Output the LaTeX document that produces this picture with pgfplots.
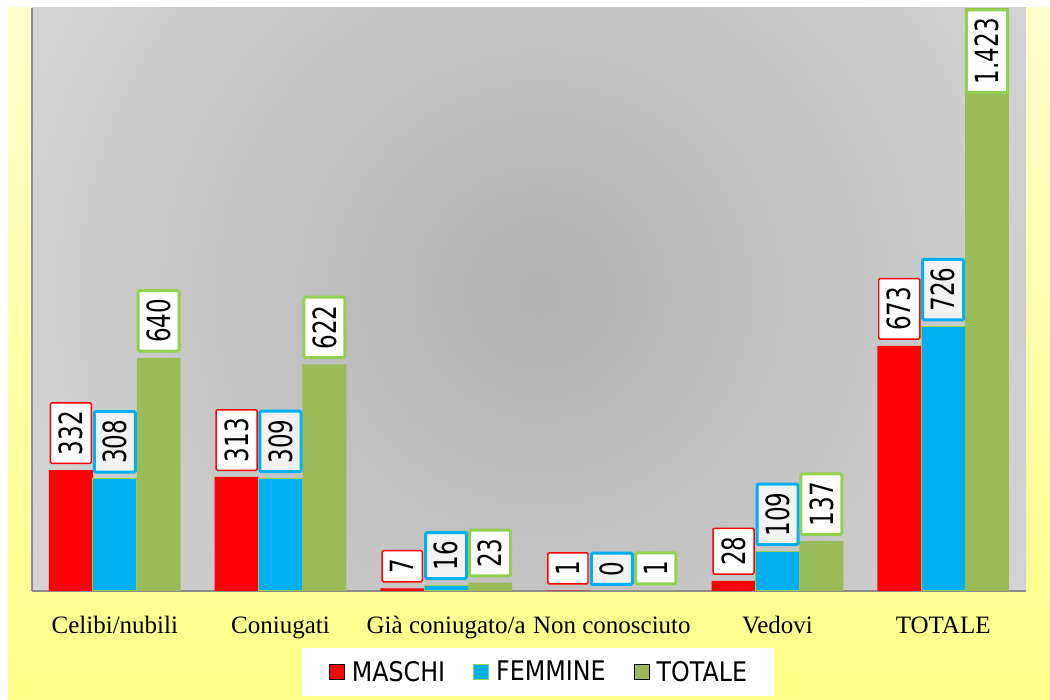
\documentclass[border=0pt]{standalone}
\usepackage{fontspec}
\usepackage{pgfplots}
\pgfplotsset{compat=1.18}
\newfontfamily\labelfont[FakeStretch=0.72]{DejaVu Sans}
\newfontfamily\legfont[FakeStretch=0.88]{DejaVu Sans}
\newfontfamily\catfont{Liberation Serif}
\definecolor{cred}{HTML}{FF0000}
\definecolor{ccyan}{HTML}{00B0F0}
\definecolor{cgreen}{HTML}{9BBB59}
\definecolor{cgreenl}{HTML}{92D050}
\definecolor{lblgray}{HTML}{F2F2F2}
\definecolor{axgray}{HTML}{8C8C8C}
\definecolor{yeltop}{HTML}{FFFFCC}
\definecolor{yelbot}{HTML}{FFFF88}
\definecolor{bgin}{HTML}{B2B2B2}
\definecolor{bgout}{HTML}{EAEAEA}
\pgfdeclareradialshading{plotbg}{\pgfpoint{0bp}{0bp}}{color(0bp)=(bgin); color(40bp)=(bgout); color(50bp)=(bgout)}
\begin{document}
\begin{tikzpicture}
\useasboundingbox (0,0) rectangle (787.5pt,525pt);
\fill[white] (0,0) rectangle (787.5pt,525pt);
\shade[top color=yeltop, bottom color=yelbot] (6pt,0pt) rectangle (787.5pt,519pt);
\begin{scope}
  \clip (24pt,81.75pt) rectangle (769.5pt,519pt);
  \shade[shading=plotbg] (405pt,305.25pt) circle (442.5pt);
\end{scope}
\begin{axis}[
  at={(24pt,81.75pt)}, anchor=south west,
  width=745.5pt, height=437.25pt, scale only axis,
  xmin=-0.5, xmax=5.5, ymin=0, ymax=1600,
  ybar, bar width=0.265,
  xtick={0,1,2,3,4,5},
  xticklabels={Celibi/nubili, Coniugati, Già coniugato/a, Non conosciuto, Vedovi, TOTALE},
  ytick=\empty,
  major tick length=0pt,
  xtick style={draw=none},
  axis lines*=left,
  axis line style={draw=axgray, line width=1.5pt},
  xticklabel style={font=\catfont\fontsize{18.75pt}{20pt}\selectfont, anchor=base, yshift=-31.5pt},
  /pgf/number format/assume math mode=true,
  every node near coord/.append style={rotate=90, anchor=west, text=black,
     font=\labelfont\fontsize{24pt}{26pt}\selectfont,
     inner xsep=6.2pt, inner ysep=6.3pt, outer xsep=5pt, outer ysep=0pt, rounded corners=1pt},
  legend columns=3,
  legend image code/.code={\draw[#1, line width=0.75pt] (0pt,-5.4pt) rectangle (11.25pt,5.85pt);},
  legend style={at={(0.509,-0.139)}, anchor=center, draw=none, fill=white,
     inner xsep=20pt, inner ysep=9.8pt,
     font=\legfont\fontsize{20.25pt}{22pt}\selectfont,
     nodes={inner sep=0pt},
     /tikz/every odd column/.append style={column sep=5.25pt},
     /tikz/every even column/.append style={column sep=21pt}},
]
\addplot[fill=cred, draw=none, bar shift=-0.265, nodes near coords,
  every node near coord/.append style={draw=cred, fill=white, line width=1.1pt}]
  coordinates {(0,332) (1,313) (2,7) (3,1) (4,28) (5,673)};
\addlegendentry{MASCHI}
\addplot[fill=ccyan, draw=cgreenl, line width=0.75pt, bar shift=0, nodes near coords,
  every node near coord/.append style={draw=ccyan, fill=lblgray, line width=2.25pt}]
  coordinates {(0,308) (1,309) (2,16) (3,0) (4,109) (5,726)};
\addlegendentry{FEMMINE}
\addplot[fill=cgreen, draw=none, bar shift=0.265, nodes near coords,
  every node near coord/.append style={draw=cgreenl, fill=white, line width=2.25pt}]
  coordinates {(0,640) (1,622) (2,23) (3,1) (4,137)};
\addlegendentry{TOTALE}
\addplot[forget plot, fill=cgreen, draw=none, bar shift=0.265, nodes near coords={1.423},
  every node near coord/.append style={draw=cgreenl, fill=white, line width=2.25pt, anchor=east, outer xsep=1.5pt}]
  coordinates {(5,1600)};
\end{axis}
\end{tikzpicture}
\end{document}
